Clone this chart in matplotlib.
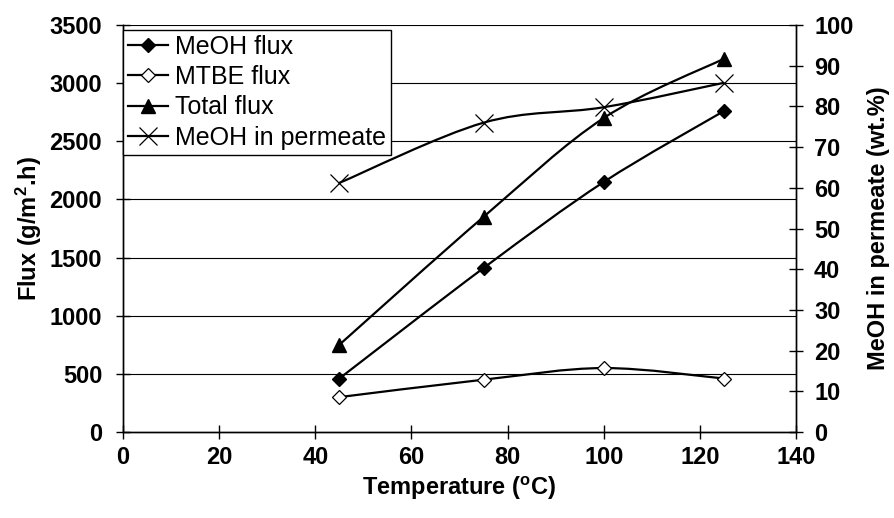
import matplotlib
matplotlib.use("Agg")
import matplotlib.pyplot as plt
from matplotlib.path import Path
from matplotlib.patches import PathPatch
from matplotlib.lines import Line2D

plt.rcParams['font.family'] = ['Liberation Sans', 'DejaVu Sans']

temperature = [45, 75, 100, 125]
meoh_flux = [460, 1410, 2150, 2760]
mtbe_flux = [300, 450, 550, 460]
total_flux = [750, 1850, 2700, 3210]
meoh_permeate = [61.2, 76.0, 79.8, 85.8]

x_ticks = [0, 20, 40, 60, 80, 100, 120, 140]
y_ticks = [0, 500, 1000, 1500, 2000, 2500, 3000, 3500]
y2_ticks = [0, 10, 20, 30, 40, 50, 60, 70, 80, 90, 100]


def smooth_path(xs, ys):
    """Excel-style smoothed line as cubic Bezier path through data points."""
    pts = list(zip(xs, ys))
    n = len(pts)
    verts = [pts[0]]
    codes = [Path.MOVETO]
    for i in range(n - 1):
        p0 = pts[i - 1] if i > 0 else pts[i]
        p1 = pts[i]
        p2 = pts[i + 1]
        p3 = pts[i + 2] if i + 2 < n else pts[i + 1]
        c1 = (p1[0] + (p2[0] - p0[0]) / 6.0, p1[1] + (p2[1] - p0[1]) / 6.0)
        c2 = (p2[0] - (p3[0] - p1[0]) / 6.0, p2[1] - (p3[1] - p1[1]) / 6.0)
        verts += [c1, c2, p2]
        codes += [Path.CURVE4, Path.CURVE4, Path.CURVE4]
    return Path(verts, codes)


fig = plt.figure(figsize=(8.95, 5.18), dpi=100)
ax = fig.add_axes([0.1374, 0.166, 0.7520, 0.7857])
ax2 = ax.twinx()

FS = 17
LFS = 18
LW = 1.6

ax.set_xlim(0, 140)
ax.set_ylim(0, 3500)
ax2.set_ylim(0, 100)
ax.set_xticks(x_ticks)
ax.set_yticks(y_ticks)
ax2.set_yticks(y2_ticks)

for yv in y_ticks[1:]:
    ax.axhline(yv, color='black', lw=0.8, zorder=1)

for a in (ax, ax2):
    for s in a.spines.values():
        s.set_color('black')
        s.set_linewidth(1.0)
    a.spines['top'].set_visible(False)

ax.tick_params(axis='y', direction='inout', length=10, width=1.0,
               labelsize=FS, pad=10)
ax.tick_params(axis='x', direction='inout', length=10, width=1.0,
               labelsize=FS, pad=5)
ax2.tick_params(axis='y', direction='inout', length=10, width=1.0,
                labelsize=FS, pad=8)
for lab in ax.get_xticklabels() + ax.get_yticklabels() + ax2.get_yticklabels():
    lab.set_fontweight('bold')

ax.set_xlabel('Temperature ($\\mathregular{^{o}}$C)', fontsize=FS, fontweight='bold', labelpad=4)
ax.set_ylabel('Flux (g/m$\\mathregular{^{2}}$.h)', fontsize=FS, fontweight='bold', labelpad=4)
ax2.set_ylabel('MeOH in permeate (wt.%)', fontsize=FS, fontweight='bold', labelpad=10)

# smoothed lines
for axis, ys in ((ax, meoh_flux), (ax, mtbe_flux), (ax, total_flux), (ax2, meoh_permeate)):
    axis.add_patch(PathPatch(smooth_path(temperature, ys), facecolor='none',
                             edgecolor='black', lw=LW, zorder=3))

ax.plot(temperature, meoh_flux, linestyle='none', marker='D', ms=7,
        mfc='black', mec='black', zorder=4)
ax.plot(temperature, mtbe_flux, linestyle='none', marker='D', ms=7,
        mfc='white', mec='black', mew=0.9, zorder=4)
ax.plot(temperature, total_flux, linestyle='none', marker='^', ms=10,
        mfc='black', mec='black', zorder=4)
ax2.plot(temperature, meoh_permeate, linestyle='none', marker='x', ms=13,
         mec='black', mew=0.9, zorder=4)

handles = [
    Line2D([], [], color='black', lw=LW, marker='D', ms=7, mfc='black', mec='black'),
    Line2D([], [], color='black', lw=LW, marker='D', ms=7, mfc='white', mec='black', mew=0.9),
    Line2D([], [], color='black', lw=LW, marker='^', ms=10, mfc='black', mec='black'),
    Line2D([], [], color='black', lw=LW, marker='x', ms=13, mec='black', mew=0.9),
]
labels = ['MeOH flux', 'MTBE flux', 'Total flux', 'MeOH in permeate']
leg = ax2.legend(handles, labels, loc='upper left', bbox_to_anchor=(0.0, 0.988),
                 borderaxespad=0.0, fontsize=LFS, frameon=True, fancybox=False,
                 framealpha=1.0, edgecolor='black', handlelength=1.6,
                 handletextpad=0.3, labelspacing=0.25, borderpad=0.2)
leg.get_frame().set_linewidth(1.0)

fig.savefig('out.png', dpi=100)
